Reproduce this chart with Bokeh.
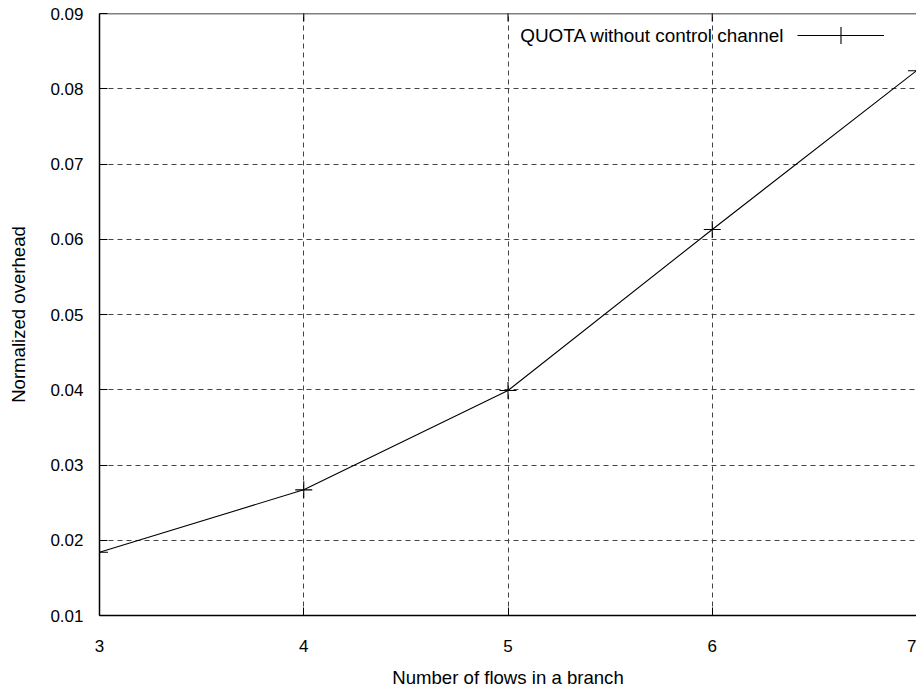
import math
from bokeh.plotting import figure
from bokeh.models import Legend, LegendItem, Label, FixedTicker, Range1d, Span
from bokeh.embed import file_html
from bokeh.resources import INLINE

# ---- data ----
flows = [3, 4, 5, 6, 7]
overhead = [0.0184, 0.0267, 0.0399, 0.0613, 0.0824]
x_ticks = [3, 4, 5, 6, 7]
y_ticks = [0.01, 0.02, 0.03, 0.04, 0.05, 0.06, 0.07, 0.08, 0.09]
series_name = "QUOTA without control channel"
x_label = "Number of flows in a branch"
y_label = "Normalized overhead"

FONT = "Liberation Sans"
TICK_FS = "17px"
LABEL_FS = "18.6px"
LEGEND_FS = "18.9px"

p = figure(width=916, height=690, output_backend="svg", toolbar_location=None,
           x_range=Range1d(x_ticks[0], x_ticks[-1]),
           y_range=Range1d(y_ticks[0], y_ticks[-1]),
           min_border_left=99, min_border_right=0, min_border_top=13,
           min_border_bottom=75, background_fill_color="white",
           border_fill_color="white")
p.outline_line_color = None

line_r = p.line(flows, overhead, line_color="black", line_width=1.1)
mark_r = p.scatter(flows, overhead, marker="cross", size=17,
                   line_color="black", line_width=1.1)

# axes
for ax in (p.xaxis[0], p.yaxis[0]):
    ax.major_label_text_font = FONT
    ax.major_label_text_font_size = TICK_FS
    ax.major_label_text_color = "black"
    ax.axis_label_text_font = FONT
    ax.axis_label_text_font_size = LABEL_FS
    ax.axis_label_text_font_style = "normal"
    ax.axis_label_text_color = "black"
    ax.axis_line_color = "black"
    ax.axis_line_width = 1.5
    ax.major_tick_in = 8
    ax.major_tick_out = 0
    ax.major_tick_line_color = "black"
    ax.minor_tick_line_color = None

p.xaxis[0].ticker = FixedTicker(ticks=x_ticks)
p.yaxis[0].ticker = FixedTicker(ticks=y_ticks)
p.xaxis[0].axis_label = x_label
p.yaxis[0].axis_label = y_label
p.xaxis[0].major_label_standoff = 24
p.xaxis[0].axis_label_standoff = 12
p.yaxis[0].major_label_standoff = 16
p.yaxis[0].axis_label_standoff = 18
p.yaxis[0].formatter.use_scientific = False

# top border with inward ticks (frame is cut at the right edge)
p.add_layout(Span(location=y_ticks[-1], dimension="width",
                  line_color="black", line_width=1.5))
p.scatter(x_ticks[1:-1], [y_ticks[-1]] * len(x_ticks[1:-1]), marker="dash",
          angle=math.pi / 2, size=16, line_color="black", line_width=1.1)

# grid
p.xgrid.ticker = FixedTicker(ticks=x_ticks[1:-1])
p.ygrid.ticker = FixedTicker(ticks=y_ticks[1:-1])
for g in (p.xgrid[0], p.ygrid[0]):
    g.grid_line_color = "#444444"
    g.grid_line_dash = "5 4"
    g.grid_line_width = 1

# legend: glyph sample on the right, its text drawn to its left
legend = Legend(items=[LegendItem(label="", renderers=[line_r, mark_r])],
                location=(698, 559), padding=0, margin=0, spacing=0,
                glyph_width=87, glyph_height=42, label_width=0,
                label_standoff=0, border_line_color=None,
                background_fill_alpha=0)
p.add_layout(legend, "center")

p.add_layout(Label(x=685, y=580, x_units="screen", y_units="screen",
                   text=series_name, text_align="right",
                   text_baseline="middle", text_font=FONT,
                   text_font_size=LEGEND_FS, text_color="black"))

open("out.html", "w").write(file_html(p, INLINE))
